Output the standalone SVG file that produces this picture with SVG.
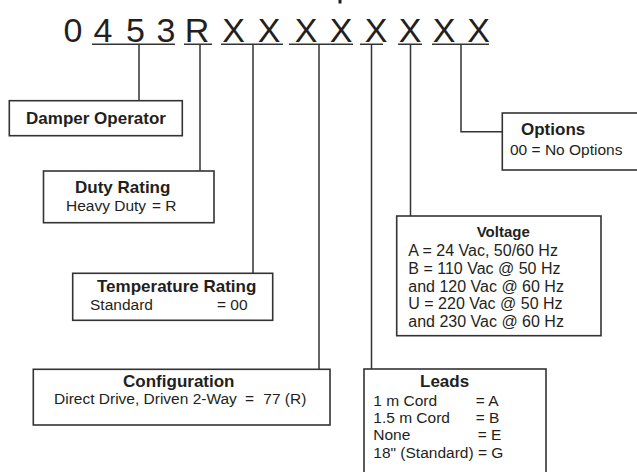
<svg xmlns="http://www.w3.org/2000/svg" width="637" height="472" viewBox="0 0 637 472">
<style>
.code{font-family:"Liberation Sans",Arial,sans-serif;font-size:34px;fill:#231f20;text-anchor:middle}
.b{font-family:"Liberation Sans",Arial,sans-serif;font-size:17px;font-weight:bold;fill:#231f20}
.r{font-family:"Liberation Sans",Arial,sans-serif;font-size:15.5px;fill:#231f20}
.box{fill:#fff;stroke:#333;stroke-width:1.6}
.ln{fill:none;stroke:#333;stroke-width:1.5}
</style>
<rect width="637" height="472" fill="#fff"/>
<rect x="338.5" y="0" width="3" height="3.5" fill="#231f20"/>
<g id="code">
<text class="code" x="73" y="42">0</text>
<text class="code" x="103" y="42">4</text>
<text class="code" x="135.5" y="42">5</text>
<text class="code" x="166" y="42">3</text>
<text class="code" x="197" y="42">R</text>
<text class="code" x="233.5" y="42">X</text>
<text class="code" x="269" y="42">X</text>
<text class="code" x="306" y="42">X</text>
<text class="code" x="341" y="42">X</text>
<text class="code" x="376" y="42">X</text>
<text class="code" x="410" y="42">X</text>
<text class="code" x="444" y="42">X</text>
<text class="code" x="478.5" y="42">X</text>
</g>
<g id="connectors" class="ln">
<path d="M92 44.3H175M139 44.3V100.7"/>
<path d="M184 44.3H212M200 44.3V171"/>
<path d="M221 44.3H283M253 44.3V273.3"/>
<path d="M289 44.3H353M319 44.3V369.3"/>
<path d="M360 44.3H383M371.5 44.3V369"/>
<path d="M398 44.3H422M410.5 44.3V216"/>
<path d="M432 44.3H489M461 44.3V131.7H502.3"/>
</g>
<g id="damper-operator">
<rect class="box" x="9.3" y="100.7" width="173" height="35"/>
<text class="b" x="96" y="124" text-anchor="middle">Damper Operator</text>
</g>
<g id="duty-rating">
<rect class="box" x="43.5" y="171" width="170.5" height="51.7"/>
<text class="b" x="75" y="193.3">Duty Rating</text>
<text class="r" x="66" y="210.7">Heavy Duty</text>
<text class="r" x="152" y="210.7">= R</text>
</g>
<g id="temperature-rating">
<rect class="box" x="72.7" y="273.3" width="200" height="47"/>
<text class="b" x="97" y="291.7">Temperature Rating</text>
<text class="r" x="90" y="310">Standard</text>
<text class="r" x="217" y="310">= 00</text>
</g>
<g id="configuration">
<rect class="box" x="33.3" y="369.3" width="296.7" height="55.7"/>
<text class="b" x="178.8" y="386.5" text-anchor="middle">Configuration</text>
<text class="r" x="54" y="404">Direct Drive, Driven 2-Way</text>
<text class="r" x="245" y="404">=</text>
<text class="r" x="263.3" y="404">77 (R)</text>
</g>
<g id="leads">
<rect class="box" x="364" y="369" width="182" height="110"/>
<text class="b" x="420" y="387.3">Leads</text>
<text class="r" x="373.3" y="405.7">1 m Cord</text>
<text class="r" x="475.7" y="405.7">= A</text>
<text class="r" x="373.3" y="422.7">1.5 m Cord</text>
<text class="r" x="475.7" y="422.7">= B</text>
<text class="r" x="373.3" y="440">None</text>
<text class="r" x="477.7" y="440">= E</text>
<text class="r" x="373.3" y="458.3">18" (Standard) = G</text>
</g>
<g id="voltage">
<rect class="box" x="396.7" y="216" width="204.3" height="119.7"/>
<text class="b" x="476.7" y="237.3" style="font-size:15px">Voltage</text>
<text class="r" x="408.3" y="255.7" style="font-size:16px">A = 24 Vac, 50/60 Hz</text>
<text class="r" x="408.3" y="274" style="font-size:16px">B = 110 Vac @ 50 Hz</text>
<text class="r" x="408.3" y="291.7" style="font-size:16px">and 120 Vac @ 60 Hz</text>
<text class="r" x="408.3" y="309" style="font-size:16px">U = 220 Vac @ 50 Hz</text>
<text class="r" x="408.3" y="326.7" style="font-size:16px">and 230 Vac @ 60 Hz</text>
</g>
<g id="options">
<rect class="box" x="502.3" y="113" width="140" height="57"/>
<text class="b" x="521" y="135">Options</text>
<text class="r" x="510" y="155">00 = No Options</text>
</g>
</svg>
